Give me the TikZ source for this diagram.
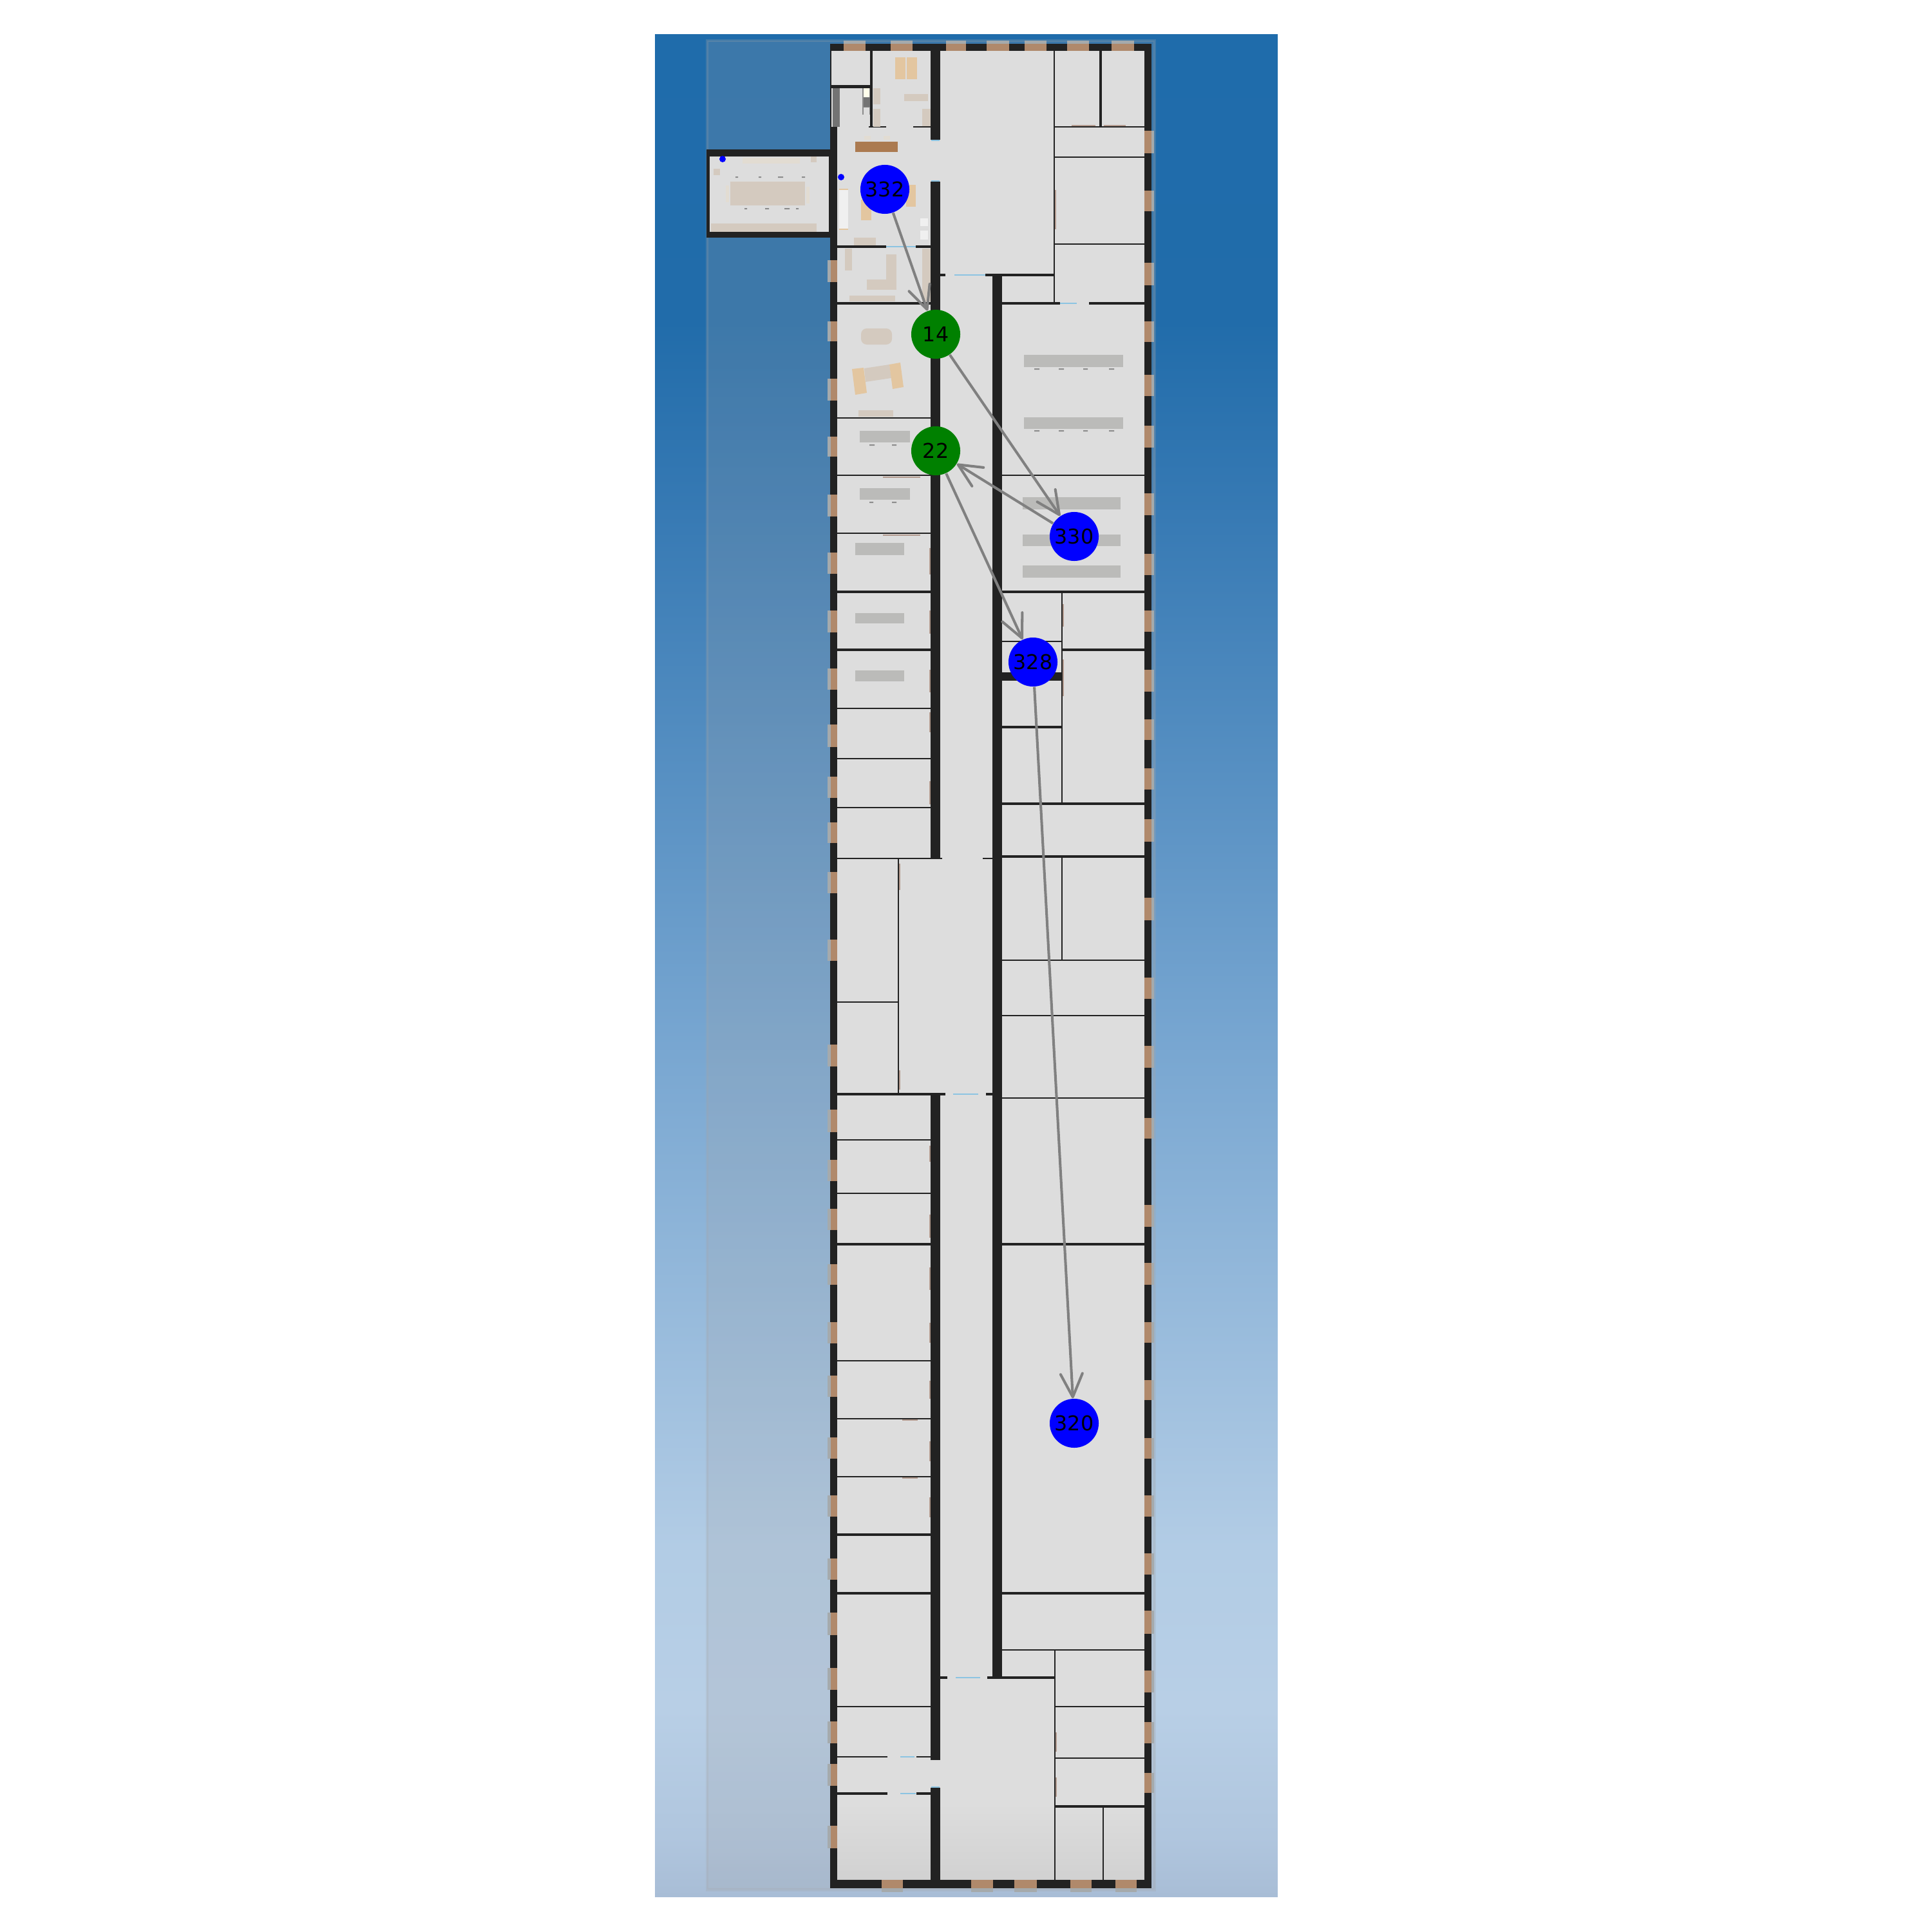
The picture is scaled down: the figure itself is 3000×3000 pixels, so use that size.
\documentclass[tikz,border=0pt]{standalone}
\usepackage{fontspec}
\setmainfont{DejaVu Sans}
\usetikzlibrary{arrows.meta}
\definecolor{wallblack}{RGB}{34,34,34}
\definecolor{floorgrey}{RGB}{221,221,221}
\definecolor{framebrown}{RGB}{176,137,107}
\definecolor{glassgrey}{RGB}{165,170,172}
\definecolor{veilgrey}{RGB}{165,165,167}
\definecolor{doorblue}{RGB}{140,196,226}
\definecolor{deskgrey}{RGB}{187,187,185}
\definecolor{tabletan}{RGB}{212,202,191}
\definecolor{seatpale}{RGB}{226,220,210}
\definecolor{woodpeach}{RGB}{227,198,160}
\definecolor{counterbrown}{RGB}{171,122,80}
\definecolor{leafbrown}{RGB}{150,110,90}
\definecolor{edgegrey}{RGB}{128,128,128}
\pgfdeclareverticalshading{skyfade}{100bp}{rgb(0bp)=(.659,.741,.839); rgb(25bp)=(.659,.741,.839); rgb(26.6bp)=(.690,.776,.871); rgb(30.1bp)=(.722,.812,.902); rgb(34.4bp)=(.698,.8,.898); rgb(48.3bp)=(.463,.647,.816); rgb(62.1bp)=(.216,.478,.706); rgb(67.3bp)=(.129,.424,.667); rgb(75bp)=(.122,.424,.671); rgb(100bp)=(.122,.424,.671)}
\newcommand{\winwest}[2]{\fill[glassgrey] (1285,#1) rectangle (1290,#2); \fill[framebrown] (1290,#1) rectangle (1300,#2);}
\newcommand{\wineast}[2]{\fill[glassgrey] (1788,#1) rectangle (1792,#2); \fill[framebrown] (1777,#1) rectangle (1788,#2);}
\newcommand{\winnorth}[2]{\fill[glassgrey] (#1,63) rectangle (#2,68); \fill[framebrown] (#1,68) rectangle (#2,79);}
\newcommand{\winsouth}[2]{\fill[glassgrey] (#1,2932) rectangle (#2,2938); \fill[framebrown] (#1,2919) rectangle (#2,2932);}

\begin{document}
\begin{tikzpicture}[x=0.01cm,y=-0.01cm,>={Straight Barb[length=3.6mm,width=3.4mm,round]},
  wall/.style={fill=wallblack},
  partition/.style={draw=wallblack,line width=.8pt},
  heavy/.style={draw=wallblack,line width=1.3pt},
  door/.style={draw=doorblue,line width=.8pt},
  leaf/.style={draw=leafbrown,line width=.6pt,opacity=.6},
  desk/.style={fill=deskgrey},
  tan/.style={fill=tabletan},
  seat/.style={fill=seatpale},
  peach/.style={fill=woodpeach},
  speck/.style={fill=black!45},
  stop/.style={circle,minimum size=0.76cm,inner sep=0pt,text=black,font=\fontsize{9pt}{10pt}\selectfont},
  office/.style={stop,fill=blue},
  lift/.style={stop,fill=green!50!black},
  route/.style={->,draw=edgegrey,line width=1.15pt}]
\useasboundingbox (0,0) rectangle (3000,3000);
\shade[shading=skyfade] (1017,54) rectangle (1984,2945);
\fill[veilgrey,opacity=.22] (1098,63) rectangle (1793,2934);
\draw[veilgrey,opacity=.25,line width=1.4pt] (1098,63) rectangle (1793,2934);
\fill[floorgrey] (1291,79) rectangle (1777,2919);
\shade[top color=floorgrey,bottom color=black!18] (1291,2800) rectangle (1777,2919);
\fill[floorgrey] (1102,243) rectangle (1287,360);
\fill[wall] (1289,68) rectangle (1788,79);
\fill[wall] (1289,2919) rectangle (1788,2932);
\fill[wall] (1289,197) rectangle (1300,2932);
\fill[wall] (1289,68) rectangle (1291,197);
\fill[wall] (1777,68) rectangle (1788,2932);
\fill[wall] (1097,232) rectangle (1289,243);
\fill[wall] (1097,360) rectangle (1289,369);
\fill[wall] (1097,232) rectangle (1102,369);
\fill[wall] (1287,243) rectangle (1300,360);
\fill[wall] (1445,79) rectangle (1460,217);
\fill[wall] (1445,282) rectangle (1460,1333);
\fill[wall] (1445,1699) rectangle (1460,2733);
\fill[wall] (1445,2776) rectangle (1460,2919);
\fill[wall] (1541,427) rectangle (1556,2604);
\fill[wall] (1289,132) rectangle (1352,137);
\fill[wall] (1351,79) rectangle (1355,197);
\draw[partition] (1349,197) -- (1376,197);
\draw[partition] (1418,197) -- (1446,197);
\draw[heavy] (1300,383) -- (1376,383);
\draw[heavy] (1422,383) -- (1446,383);
\draw[heavy] (1300,471) -- (1446,471);
\draw[partition] (1300,649) -- (1446,649);
\draw[partition] (1300,738) -- (1446,738);
\draw[partition] (1300,828) -- (1446,828);
\draw[heavy] (1300,919) -- (1446,919);
\draw[heavy] (1300,1009) -- (1446,1009);
\draw[partition] (1300,1100) -- (1446,1100);
\draw[partition] (1300,1178) -- (1446,1178);
\draw[partition] (1300,1254) -- (1446,1254);
\draw[partition] (1300,1333) -- (1463,1333);
\draw[partition] (1526,1333) -- (1542,1333);
\draw[partition] (1395,1333) -- (1395,1699);
\draw[partition] (1300,1556) -- (1395,1556);
\draw[heavy] (1300,1699) -- (1468,1699);
\draw[heavy] (1531,1699) -- (1542,1699);
\draw[partition] (1300,1770) -- (1446,1770);
\draw[partition] (1300,1853) -- (1446,1853);
\draw[heavy] (1300,1932) -- (1446,1932);
\draw[partition] (1300,2113) -- (1446,2113);
\draw[partition] (1300,2203) -- (1446,2203);
\draw[partition] (1300,2293) -- (1446,2293);
\draw[heavy] (1300,2383) -- (1446,2383);
\draw[heavy] (1300,2474) -- (1446,2474);
\draw[partition] (1300,2650) -- (1446,2650);
\draw[partition] (1300,2728) -- (1378,2728);
\draw[partition] (1423,2728) -- (1446,2728);
\draw[heavy] (1300,2785) -- (1378,2785);
\draw[heavy] (1423,2785) -- (1446,2785);
\draw[partition] (1637,79) -- (1637,471);
\draw[heavy] (1709,79) -- (1709,197);
\draw[partition] (1637,197) -- (1777,197);
\draw[partition] (1637,244) -- (1777,244);
\draw[partition] (1637,379) -- (1777,379);
\draw[heavy] (1459,427) -- (1468,427);
\draw[heavy] (1530,427) -- (1637,427);
\draw[heavy] (1555,471) -- (1646,471);
\draw[heavy] (1691,471) -- (1777,471);
\draw[partition] (1555,738) -- (1777,738);
\draw[heavy] (1555,919) -- (1777,919);
\draw[partition] (1649,919) -- (1649,1248);
\draw[partition] (1555,996) -- (1649,996);
\draw[heavy] (1649,1009) -- (1777,1009);
\fill[wall] (1555,1044) rectangle (1649,1057);
\draw[heavy] (1555,1129) -- (1649,1129);
\draw[heavy] (1555,1248) -- (1777,1248);
\draw[heavy] (1555,1330) -- (1777,1330);
\draw[partition] (1649,1330) -- (1649,1491);
\draw[partition] (1555,1491) -- (1777,1491);
\draw[partition] (1555,1577) -- (1777,1577);
\draw[partition] (1555,1705) -- (1777,1705);
\draw[heavy] (1555,1932) -- (1777,1932);
\draw[heavy] (1555,2474) -- (1777,2474);
\draw[partition] (1555,2562) -- (1777,2562);
\draw[heavy] (1459,2605) -- (1471,2605);
\draw[heavy] (1533,2605) -- (1638,2605);
\draw[partition] (1638,2562) -- (1638,2919);
\draw[partition] (1638,2650) -- (1777,2650);
\draw[partition] (1638,2730) -- (1777,2730);
\draw[heavy] (1638,2805) -- (1777,2805);
\draw[partition] (1713,2805) -- (1713,2919);
\draw[door] (1376,383) -- (1422,383);
\draw[door] (1482,427) -- (1530,427);
\draw[door] (1646,471) -- (1672,471);
\draw[door] (1480,1699) -- (1519,1699);
\draw[door] (1484,2605) -- (1522,2605);
\draw[door] (1398,2728) -- (1420,2728);
\draw[door] (1398,2785) -- (1422,2785);
\draw[door,line width=.4pt] (1446,218) -- (1459,218);
\draw[door,line width=.4pt] (1446,281) -- (1459,281);
\draw[door,line width=.4pt] (1446,2775) -- (1459,2775);
\draw[leaf] (1444,851) -- (1444,892);
\draw[leaf] (1444,948) -- (1444,984);
\draw[leaf] (1444,1040) -- (1444,1075);
\draw[leaf] (1444,1106) -- (1444,1137);
\draw[leaf] (1444,1213) -- (1444,1249);
\draw[leaf] (1444,1779) -- (1444,1804);
\draw[leaf] (1444,1886) -- (1444,1922);
\draw[leaf] (1444,1968) -- (1444,2003);
\draw[leaf] (1444,2054) -- (1444,2085);
\draw[leaf] (1444,2144) -- (1444,2172);
\draw[leaf] (1444,2238) -- (1444,2269);
\draw[leaf] (1444,2325) -- (1444,2356);
\draw[leaf] (1397,1341) -- (1397,1382);
\draw[leaf] (1397,1662) -- (1397,1692);
\draw[leaf] (1371,741) -- (1429,741);
\draw[leaf] (1371,831) -- (1429,831);
\draw[leaf] (1401,2205) -- (1425,2205);
\draw[leaf] (1401,2295) -- (1425,2295);
\draw[leaf] (1664,195) -- (1701,195);
\draw[leaf] (1714,195) -- (1748,195);
\draw[leaf] (1639,295) -- (1639,356);
\draw[leaf] (1651,938) -- (1651,973);
\draw[leaf] (1651,1024) -- (1651,1081);
\draw[leaf] (1640,2690) -- (1640,2720);
\draw[leaf] (1640,2760) -- (1640,2790);
\winnorth{1310}{1344}
\winnorth{1383}{1417}
\winnorth{1469}{1500}
\winnorth{1532}{1567}
\winnorth{1591}{1625}
\winnorth{1657}{1691}
\winnorth{1726}{1761}
\winsouth{1369}{1402}
\winsouth{1508}{1542}
\winsouth{1575}{1610}
\winsouth{1662}{1695}
\winsouth{1732}{1765}
\winwest{404}{438}
\winwest{499}{530}
\winwest{588}{622}
\winwest{678}{709}
\winwest{768}{802}
\winwest{858}{891}
\winwest{948}{982}
\winwest{1038}{1071}
\winwest{1125}{1160}
\winwest{1206}{1239}
\winwest{1277}{1309}
\winwest{1354}{1387}
\winwest{1459}{1492}
\winwest{1622}{1656}
\winwest{1723}{1758}
\winwest{1801}{1834}
\winwest{1877}{1910}
\winwest{1963}{1995}
\winwest{2053}{2086}
\winwest{2136}{2169}
\winwest{2232}{2265}
\winwest{2322}{2355}
\winwest{2420}{2453}
\winwest{2504}{2539}
\winwest{2590}{2624}
\winwest{2673}{2707}
\winwest{2739}{2773}
\winwest{2835}{2870}
\wineast{203}{238}
\wineast{296}{328}
\wineast{408}{443}
\wineast{499}{531}
\wineast{582}{615}
\wineast{661}{695}
\wineast{766}{800}
\wineast{860}{893}
\wineast{948}{981}
\wineast{1040}{1074}
\wineast{1117}{1149}
\wineast{1193}{1226}
\wineast{1272}{1307}
\wineast{1394}{1429}
\wineast{1518}{1551}
\wineast{1624}{1658}
\wineast{1736}{1768}
\wineast{1871}{1905}
\wineast{1961}{1995}
\wineast{2053}{2085}
\wineast{2143}{2174}
\wineast{2233}{2265}
\wineast{2322}{2355}
\wineast{2412}{2445}
\wineast{2501}{2537}
\wineast{2594}{2628}
\wineast{2674}{2707}
\wineast{2753}{2784}
\fill[tan] (1134,282) rectangle (1250,319);
\fill[tan] (1104,347) rectangle (1268,360);
\fill[seat] (1153,245) rectangle (1242,254);
\fill[tan] (1259,243) rectangle (1268,252);
\fill[tan] (1108,262) rectangle (1118,272);
\fill[seat] (1127,288) rectangle (1132,314);
\fill[seat] (1252,290) rectangle (1257,316);
\fill[speck] (1142,274) rectangle (1146,276) (1178,274) rectangle (1182,276) (1208,274) rectangle (1216,276) (1245,274) rectangle (1250,276);
\fill[speck] (1156,323) rectangle (1160,325) (1188,323) rectangle (1194,325) (1218,323) rectangle (1226,325) (1236,323) rectangle (1240,325);
\fill[blue] (1122,247) circle (5);
\fill[blue] (1306,275) circle (5);
\fill[black!55] (1293,137) rectangle (1304,197);
\fill[black!45] (1339,137) rectangle (1351,178);
\fill[white!92!yellow] (1341,137) rectangle (1350,151);
\fill[black!55] (1341,151) rectangle (1351,166);
\fill[floorgrey] (1341,167) rectangle (1350,178);
\fill[peach] (1390,89) rectangle (1406,123);
\fill[peach] (1408,89) rectangle (1424,123);
\fill[tan] (1404,146) rectangle (1441,157);
\fill[tan] (1356,137) rectangle (1367,162);
\fill[tan] (1356,169) rectangle (1367,197);
\fill[tan] (1432,169) rectangle (1445,196);
\fill[counterbrown] (1328,220) rectangle (1394,236);
\fill[seat] (1342,211) rectangle (1352,217);
\fill[seat] (1372,211) rectangle (1382,217);
\fill[peach] (1407,287) rectangle (1422,321);
\fill[peach] (1337,310) rectangle (1353,342);
\fill[peach] (1303,293) rectangle (1317,357);
\fill[white!94!black] (1303,295) rectangle (1317,355);
\fill[white!94!black] (1429,339) rectangle (1441,351);
\fill[white!94!black] (1429,358) rectangle (1441,372);
\fill[tan] (1326,369) rectangle (1360,381);
\fill[tan] (1312,386) rectangle (1323,420);
\fill[tan] (1376,395) rectangle (1392,450);
\fill[tan] (1346,434) rectangle (1392,450);
\fill[tan] (1432,386) rectangle (1445,468);
\fill[tan] (1319,459) rectangle (1390,468);
\fill[tan,rounded corners=2.5pt] (1337,510) rectangle (1385,535);
\fill[tan] (1342,572) -- (1381,566) -- (1384,587) -- (1344,593) -- cycle;
\fill[peach] (1323,573) -- (1341,571) -- (1346,610) -- (1328,613) -- cycle;
\fill[peach] (1381,566) -- (1398,563) -- (1403,601) -- (1386,604) -- cycle;
\fill[tan] (1333,637) rectangle (1387,647);
\fill[desk] (1335,669) rectangle (1413,687);
\fill[desk] (1335,758) rectangle (1413,776);
\fill[desk] (1328,843) rectangle (1404,862);
\fill[desk] (1328,952) rectangle (1404,968);
\fill[desk] (1328,1041) rectangle (1404,1058);
\fill[desk] (1590,551) rectangle (1744,570);
\fill[desk] (1590,648) rectangle (1744,666);
\fill[desk] (1588,772) rectangle (1740,791);
\fill[desk] (1588,830) rectangle (1740,848);
\fill[desk] (1588,878) rectangle (1740,897);
\fill[speck] (1606,572) rectangle (1614,574) (1644,572) rectangle (1652,574) (1682,572) rectangle (1689,574) (1722,572) rectangle (1730,574);
\fill[speck] (1606,668) rectangle (1614,670) (1644,668) rectangle (1652,670) (1682,668) rectangle (1689,670) (1722,668) rectangle (1730,670);
\fill[speck] (1350,690) rectangle (1358,692) (1385,690) rectangle (1392,692);
\fill[speck] (1350,779) rectangle (1356,781) (1385,779) rectangle (1392,781);
\node[office] (room332) at (1374,294) {332};
\node[lift] (lift14) at (1453,519) {14};
\node[lift] (lift22) at (1453,700) {22};
\node[office] (room330) at (1668,833) {330};
\node[office] (room328) at (1604,1028) {328};
\node[office] (room320) at (1668,2210) {320};
\draw[route] (room332) -- (lift14);
\draw[route] (lift14) -- (room330);
\draw[route] (room330) -- (lift22);
\draw[route] (lift22) -- (room328);
\draw[route] (room328) -- (room320);
\end{tikzpicture}
\end{document}
